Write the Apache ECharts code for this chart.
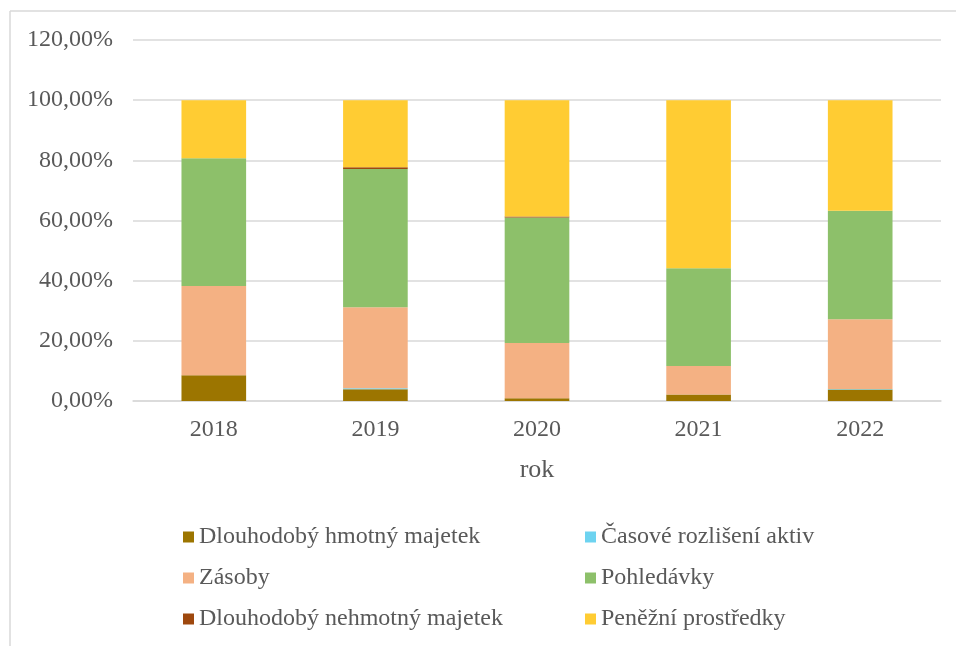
<!DOCTYPE html>
<html>
<head>
<meta charset="utf-8">
<script src="https://cdn.jsdelivr.net/npm/echarts@6/dist/echarts.min.js"></script>
<style>
  html, body { margin: 0; padding: 0; background: #fff; }
  #chart { width: 956px; height: 646px; }
</style>
</head>
<body>
<div id="chart"></div>
<script>
var years = ['2018', '2019', '2020', '2021', '2022'];
var dhm = [8.6, 3.9, 0.9, 2.2, 3.8];
var casove = [0, 0.3, 0, 0, 0.2];
var zasoby = [29.6, 27.0, 18.4, 9.4, 23.2];
var pohledavky = [42.5, 45.9, 41.7, 32.5, 36.0];
var dnm = [0, 0.6, 0.3, 0, 0];
var penezni = [19.3, 22.3, 38.7, 55.9, 36.8];

var names = ['Dlouhodobý hmotný majetek', 'Časové rozlišení aktiv', 'Zásoby',
  'Pohledávky', 'Dlouhodobý nehmotný majetek', 'Peněžní prostředky'];
var colors = ['#9C7500', '#6DD3F0', '#F4B183', '#8DC06A', '#9E480E', '#FFCC33'];
var values = [dhm, casove, zasoby, pohledavky, dnm, penezni];

var font = 'Liberation Serif';
var chart = echarts.init(document.getElementById('chart'));

var series = [];
for (var i = 0; i < names.length; i++) {
  series.push({
    name: names[i],
    type: 'bar',
    stack: 'total',
    barWidth: '40%',
    itemStyle: { color: colors[i] },
    data: values[i]
  });
}

// two vertical legend columns, like the two-column legend of the original
function legendOf(list, left) {
  return {
    orient: 'vertical',
    left: left,
    top: 520,
    itemWidth: 11,
    itemHeight: 11,
    itemGap: 17,
    icon: 'rect',
    data: list,
    textStyle: { fontFamily: font, fontSize: 24, color: '#595959' }
  };
}

chart.setOption({
  animation: false,
  color: colors,
  graphic: [
    { type: 'line', shape: { x1: 10, y1: 11, x2: 956, y2: 11 }, style: { stroke: '#D9D9D9', lineWidth: 1.5 } },
    { type: 'line', shape: { x1: 10, y1: 11, x2: 10, y2: 646 }, style: { stroke: '#D9D9D9', lineWidth: 1.5 } }
  ],
  grid: { left: 133, right: 15, top: 40, bottom: 245 },
  legend: [
    legendOf([names[0], names[2], names[4]], 178),
    legendOf([names[1], names[3], names[5]], 580)
  ],
  xAxis: {
    type: 'category',
    data: years,
    name: 'rok',
    nameLocation: 'middle',
    nameGap: 56,
    nameTextStyle: { fontFamily: font, fontSize: 26, color: '#595959' },
    axisLine: { lineStyle: { color: '#D9D9D9', width: 1.5 } },
    axisTick: { show: false },
    axisLabel: { fontFamily: font, fontSize: 24, color: '#595959', margin: 17 }
  },
  yAxis: {
    type: 'value',
    min: 0,
    max: 120,
    interval: 20,
    axisLine: { show: false },
    axisTick: { show: false },
    splitLine: { lineStyle: { color: '#D9D9D9', width: 1.5 } },
    axisLabel: {
      fontFamily: font, fontSize: 24, color: '#595959', margin: 20,
      formatter: function (v) { return v.toFixed(2).replace('.', ',') + '%'; }
    }
  },
  series: series
});
</script>
</body>
</html>
